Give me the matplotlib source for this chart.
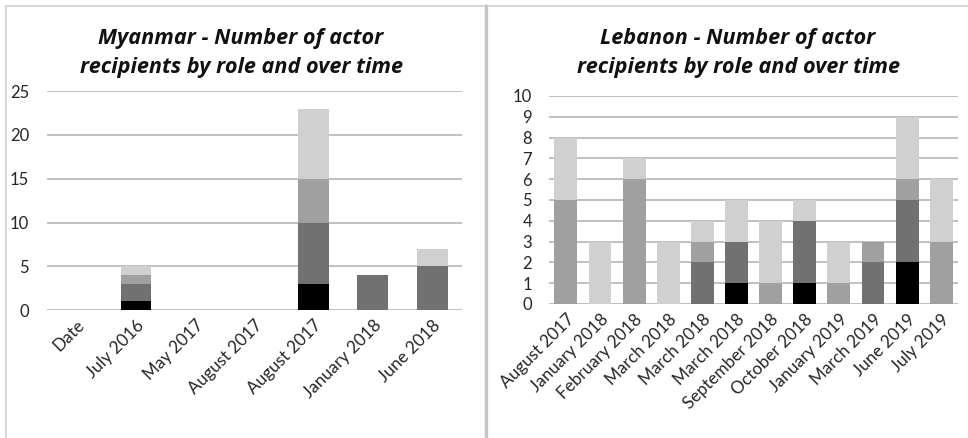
import matplotlib
matplotlib.use("Agg")
import matplotlib.pyplot as plt
from matplotlib.lines import Line2D
import numpy as np

plt.rcParams['font.family'] = ['Lato', 'DejaVu Sans']

# Myanmar
mm_cats = ["Date", "July 2016", "May 2017", "August 2017", "August 2017", "January 2018", "June 2018"]
mm_black = [0, 1, 0, 0, 3, 0, 0]
mm_dark = [0, 2, 0, 0, 7, 4, 5]
mm_mid = [0, 1, 0, 0, 5, 0, 0]
mm_light = [0, 1, 0, 0, 8, 0, 2]

# Lebanon
lb_cats = ["August 2017", "January 2018", "February 2018", "March 2018", "March 2018", "March 2018",
           "September 2018", "October 2018", "January 2019", "March 2019", "June 2019", "July 2019"]
lb_black = [0, 0, 0, 0, 0, 1, 0, 1, 0, 0, 2, 0]
lb_dark = [0, 0, 0, 0, 2, 2, 0, 3, 0, 2, 3, 0]
lb_mid = [5, 0, 6, 0, 1, 0, 1, 0, 1, 1, 1, 3]
lb_light = [3, 3, 1, 3, 1, 2, 3, 1, 2, 0, 3, 3]

colors = ["#000000", "#717171", "#a0a0a0", "#d0d0d0"]

fig = plt.figure(figsize=(9.68, 4.38), dpi=100)

def draw(ax, cats, series, width, ymax, yticks, ypad):
    x = np.arange(len(cats))
    bottom = np.zeros(len(cats))
    for vals, c in zip(series, colors):
        v = np.array(vals, dtype=float)
        ax.bar(x, v, width, bottom=bottom, color=c, zorder=3, linewidth=0)
        bottom += v
    ax.set_xlim(-0.5, len(cats) - 0.5)
    ax.set_ylim(0, ymax)
    ax.set_yticks(yticks)
    ax.set_xticks(x)
    ax.set_xticklabels(cats, rotation=45, ha='right', rotation_mode='anchor', fontsize=12.3, color='#262626')
    ax.tick_params(axis='y', labelsize=12, labelcolor='#262626', length=0, pad=ypad)
    ax.tick_params(axis='x', length=0, pad=5)
    for s in ax.spines.values():
        s.set_visible(False)
    ax.grid(axis='y', color='#c0c0c0', linewidth=1.4, zorder=0)
    ax.set_axisbelow(True)

ax1 = fig.add_axes([0.0486, 0.292, 0.4284, 0.500])
draw(ax1, mm_cats, [mm_black, mm_dark, mm_mid, mm_light], 0.52, 25, [0, 5, 10, 15, 20, 25], 13)

ax2 = fig.add_axes([0.567, 0.306, 0.423, 0.475])
draw(ax2, lb_cats, [lb_black, lb_dark, lb_mid, lb_light], 0.67, 10, list(range(0, 11)), 12)

tfont = ['Open Sans', 'DejaVu Sans']
fig.text(0.249, 0.879, "Myanmar - Number of actor\nrecipients by role and over time", ha='center', va='center',
         fontsize=15.6, fontweight='bold', fontstyle='italic', linespacing=1.52, color='#111111', family=tfont)
fig.text(0.7625, 0.879, "Lebanon - Number of actor\nrecipients by role and over time", ha='center', va='center',
         fontsize=15.6, fontweight='bold', fontstyle='italic', linespacing=1.52, color='#111111', family=tfont)

# panel borders
fig.add_artist(Line2D([6/968, 1], [1 - 6/438, 1 - 6/438], color='#d0d0d0', linewidth=1.2))
fig.add_artist(Line2D([6/968, 6/968], [0, 1 - 6/438], color='#d0d0d0', linewidth=1.2))
fig.add_artist(Line2D([486/968, 486/968], [0, 1 - 6/438], color='#c4c4c4', linewidth=2.4))

fig.savefig("out.png", dpi=100)
